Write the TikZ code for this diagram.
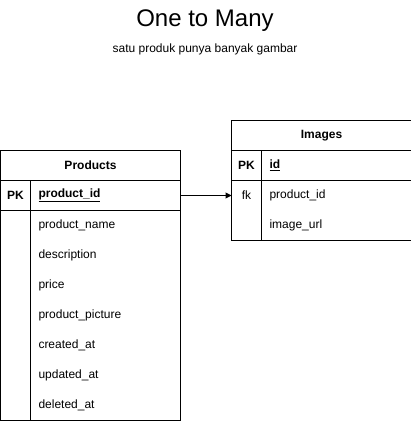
\documentclass[tikz,border=0pt]{standalone}
\usepackage{fontspec}
\setmainfont{Liberation Sans}
\usetikzlibrary{arrows.meta, positioning}

\begin{document}
\begin{tikzpicture}[x=1pt, y=-1pt,
		node distance=0pt,
		every node/.style={font=\fontsize{12}{14}\selectfont, outer sep=0pt},
		headbox/.style={rectangle, draw=black, line width=1pt, minimum width=180pt, minimum height=30pt, inner sep=0pt, font=\bfseries\fontsize{12}{14}\selectfont},
		keybox/.style={rectangle, minimum width=30pt, minimum height=30pt, inner sep=0pt},
		fieldbox/.style={rectangle, text width=134pt, inner xsep=8pt, inner ysep=0pt, minimum height=30pt, align=left},
		pkfont/.style={font=\bfseries\fontsize{12}{14}\selectfont},
		border/.style={line width=1pt},
		arrow/.style={-{Triangle[length=6pt, width=6pt]}, line width=1pt}
		]
		\useasboundingbox (0,0) rectangle (411,422);
		
		% Title
		\node[anchor=base, font=\fontsize{24}{28}\selectfont] (title) at (205,27) {One to Many};
		\node[anchor=base] (subtitle) at (205,53) {satu produk punya banyak gambar};
		
		% Products table
		\node[headbox, anchor=north west] (prodhead) at (0.5,150.5) {Products};
		\node[keybox, pkfont, below=of prodhead.south west, anchor=north west] (prodk0) {PK};
		\node[fieldbox, pkfont, right=of prodk0] (prodf0) {\underline{product\_id}};
		\foreach \f [count=\i, remember=\i as \j (initially 0)] in {product\_name, description, price, product\_picture, created\_at, updated\_at, deleted\_at} {
			\node[keybox, below=of prodk\j] (prodk\i) {};
			\node[fieldbox, right=of prodk\i] (prodf\i) {\f};
		}
		\draw[border] (prodhead.south west) rectangle (prodf7.south east);
		\draw[border] (prodk0.north east) -- (prodk7.south east);
		\draw[border] (prodk0.south west) -- (prodf0.south east);
		
		% Images table
		\node[headbox, anchor=north west] (imghead) at (231.5,120.5) {Images};
		\node[keybox, pkfont, below=of imghead.south west, anchor=north west] (imgk0) {PK};
		\node[fieldbox, pkfont, right=of imgk0] (imgf0) {\underline{id}};
		\node[keybox, below=of imgk0] (imgk1) {fk};
		\node[fieldbox, right=of imgk1] (imgf1) {product\_id};
		\node[keybox, below=of imgk1] (imgk2) {};
		\node[fieldbox, right=of imgk2] (imgf2) {image\_url};
		\draw[border] (imghead.south west) rectangle (imgf2.south east);
		\draw[border] (imgk0.north east) -- (imgk2.south east);
		\draw[border] (imgk0.south west) -- (imgf0.south east);
		
		% Relation
		\draw[arrow] (prodf0.east) -- (imgk1.west);
		
	\end{tikzpicture}
\end{document}
